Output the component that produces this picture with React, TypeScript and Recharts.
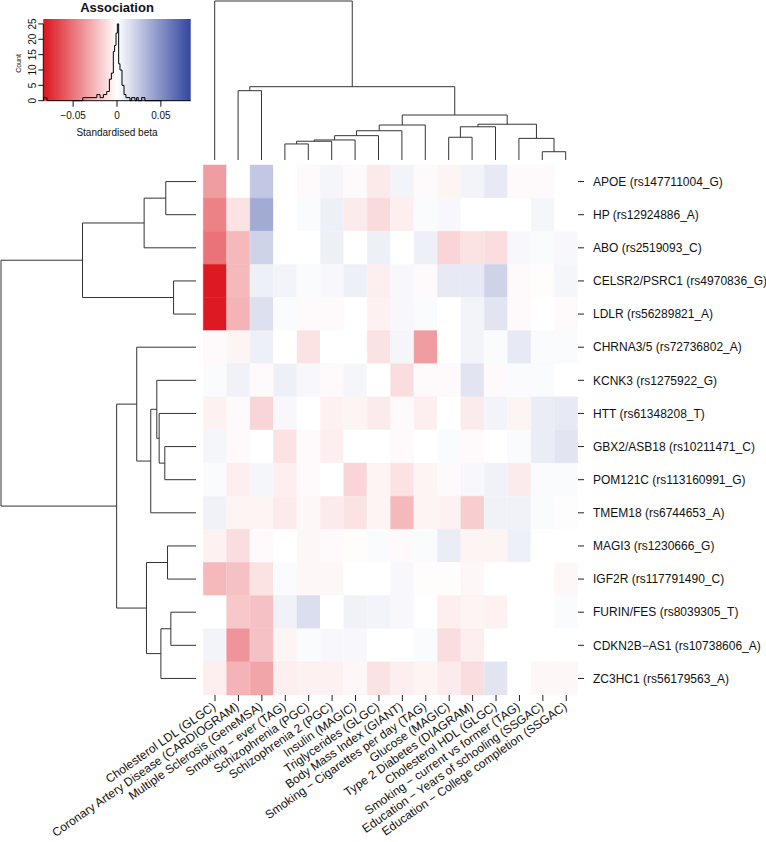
import React from 'react';
import {
  BarChart,
  Bar,
  Cell,
  XAxis,
  YAxis,
  ScatterChart,
  Scatter,
  ReferenceArea,
  ReferenceLine,
} from 'recharts';

// GWAS traits (columns, in dendrogram order)
const traits = [
  'Cholesterol LDL (GLGC)',
  'Coronary Artery Disease (CARDIOGRAM)',
  'Multiple Sclerosis (GeneMSA)',
  'Smoking \u2212 ever (TAG)',
  'Schizophrenia (PGC)',
  'Schizophrenia 2 (PGC)',
  'Insulin (MAGIC)',
  'Triglycerides (GLGC)',
  'Body Mass Index (GIANT)',
  'Smoking \u2212 Cigarettes per day (TAG)',
  'Glucose (MAGIC)',
  'Type 2 Diabetes (DIAGRAM)',
  'Cholesterol HDL (GLGC)',
  'Smoking \u2212 current vs former (TAG)',
  'Education \u2212 Years of schooling (SSGAC)',
  'Education \u2212 College completion (SSGAC)',
];

// SNPs (rows, top to bottom)
const snps = [
  'APOE (rs147711004_G)',
  'HP (rs12924886_A)',
  'ABO (rs2519093_C)',
  'CELSR2/PSRC1 (rs4970836_G)',
  'LDLR (rs56289821_A)',
  'CHRNA3/5 (rs72736802_A)',
  'KCNK3 (rs1275922_G)',
  'HTT (rs61348208_T)',
  'GBX2/ASB18 (rs10211471_C)',
  'POM121C (rs113160991_G)',
  'TMEM18 (rs6744653_A)',
  'MAGI3 (rs1230666_G)',
  'IGF2R (rs117791490_C)',
  'FURIN/FES (rs8039305_T)',
  'CDKN2B\u2212AS1 (rs10738606_A)',
  'ZC3HC1 (rs56179563_A)',
];

// standardised betas, one array per SNP, same order as traits
const apoe = [-0.035, 0, 0.025, 0, -0.002, 0.004, -0.002, -0.008, 0.005, -0.002, -0.004, 0.005, 0.01, -0.002, -0.002, 0];
const hp = [-0.045, -0.01, 0.038, 0, 0.002, 0.007, -0.007, -0.013, -0.006, 0.002, 0.003, 0, 0, 0, 0.004, 0];
const abo = [-0.05, -0.025, 0.02, 0, 0, 0.007, 0, 0.007, 0, 0.007, -0.015, -0.01, -0.012, 0.003, 0.002, 0.003];
const celsr2 = [-0.082, -0.025, 0.007, 0.005, 0.002, 0.003, 0.007, -0.006, 0.003, -0.002, 0.01, 0.01, 0.02, -0.002, -0.001, 0.004];
const ldlr = [-0.082, -0.027, 0.014, 0.002, -0.002, -0.002, 0, -0.005, 0.003, 0.002, 0, 0.005, 0.012, -0.002, 0, -0.002];
const chrna = [-0.002, -0.004, 0.007, 0, -0.01, 0, 0, -0.01, 0.004, -0.035, 0, 0.005, 0.002, 0.01, 0.002, 0.002];
const kcnk3 = [0.002, 0.006, -0.002, 0.007, 0.003, -0.002, 0.004, 0, -0.012, -0.002, -0.002, 0.012, -0.002, 0.002, 0.002, 0];
const htt = [-0.005, -0.002, -0.015, 0.003, 0, -0.005, -0.004, -0.007, -0.002, -0.006, 0, -0.007, 0.005, -0.004, 0.008, 0.01];
const gbx2 = [0.004, -0.002, 0, -0.01, -0.002, -0.006, 0, 0, -0.002, 0, 0.002, -0.002, 0, 0.002, 0.008, 0.012];
const pom121c = [0.002, -0.006, 0.004, -0.006, -0.002, 0, -0.015, -0.004, -0.01, -0.004, -0.002, 0.003, 0.006, -0.007, 0.002, 0.002];
const tmem18 = [0.006, -0.004, -0.004, -0.007, -0.003, -0.007, -0.01, -0.004, -0.025, -0.004, -0.005, -0.018, 0.006, 0.006, 0.002, 0.001];
const magi3 = [-0.005, -0.012, -0.002, 0, -0.003, -0.002, -0.001, 0.002, -0.002, 0.002, 0.008, -0.004, -0.004, 0.007, 0, 0];
const igf2r = [-0.025, -0.022, -0.01, 0.002, -0.003, -0.003, 0, 0, 0.003, -0.001, -0.001, -0.003, 0, 0, 0, -0.003];
const furin = [0, -0.02, -0.022, 0.006, 0.015, 0, 0.006, 0.005, 0.003, 0, -0.006, -0.004, -0.005, 0, 0, 0.002];
const cdkn2b = [0.005, -0.038, -0.022, -0.004, 0.002, 0.003, 0.003, 0, 0, 0.002, -0.012, -0.006, 0, 0, 0, 0];
const zc3hc1 = [-0.006, -0.027, -0.032, -0.006, -0.005, -0.005, -0.003, -0.01, -0.006, -0.004, -0.007, -0.012, 0.012, 0, -0.003, -0.003];

const betaRows = [apoe, hp, abo, celsr2, ldlr, chrna, kcnk3, htt, gbx2, pom121c, tmem18, magi3, igf2r, furin, cdkn2b, zc3hc1];

// dendrograms: leaf = position index, node = [left, right, height]
const traitTree = [0, [[1, 2, 0.436], [[[[[[[3, 4, 0.101], 5, 0.118], 6, 0.126], 7, 0.153], 8, 0.184], 9, 0.22], [[[10, 11, 0.143], 12, 0.209], [13, [14, 15, 0.052], 0.136], 0.225], 0.283], 0.461], 1.0];
const snpTree = [[[[0, 1, 0.155], 2, 0.266], [3, 4, 0.115], 0.582], [[5, [[6, [7, [8, 9, 0.16], 0.189], 0.201], 10, 0.232], 0.304], [[11, 12, 0.146], [[13, 14, 0.129], 15, 0.18], 0.254], 0.407], 1.0];

// histogram of betas in the colour key
const histStart = [-0.0837, -0.039, -0.023, -0.0193, -0.0155, -0.0117, -0.0087, -0.0064, -0.0042, -0.0027, -0.0011, 0.0004, 0.0019, 0.0034, 0.0057, 0.008, 0.0102, 0.0167, 0.0224, 0.0281];
const histEnd = [-0.0799, -0.023, -0.0193, -0.0155, -0.0117, -0.0087, -0.0064, -0.0042, -0.0027, -0.0011, 0.0004, 0.0019, 0.0034, 0.0057, 0.008, 0.0102, 0.0148, 0.0205, 0.0242, 0.0318];
const histCount = [1, 1, 2, 1, 2, 3, 7, 9, 16, 18, 22, 25, 12, 10, 5, 2, 1, 1, 1, 1];

const keyTicks = [-0.05, 0, 0.05];
const countTicks = [0, 5, 10, 15, 20, 25];

const BETA_MAX = 0.084;
const RED = [220, 20, 30];
const BLUE = [50, 70, 160];
const FONT = '"Liberation Sans", Arial, Helvetica, sans-serif';
const LINE = { stroke: '#333', strokeWidth: 1 };

function betaColor(v: number) {
  const t = Math.min(1, Math.abs(v) / BETA_MAX);
  const end = v < 0 ? RED : BLUE;
  const c = end.map((e) => Math.round(255 + (e - 255) * t));
  return `rgb(${c[0]},${c[1]},${c[2]})`;
}

type Pt = { p: number; h: number };
function walk(tree: any, links: Pt[][]): Pt {
  if (typeof tree === 'number') return { p: tree, h: 0 };
  const a = walk(tree[0], links);
  const b = walk(tree[1], links);
  const h = tree[2];
  links.push([a, { p: a.p, h }, { p: b.p, h }, b]);
  return { p: (a.p + b.p) / 2, h };
}
function dendroLinks(tree: any) {
  const links: Pt[][] = [];
  walk(tree, links);
  return links;
}

const traitLinks = dendroLinks(traitTree);
const snpLinks = dendroLinks(snpTree);

const cellData = traits.map((name) => {
  const d: any = { name };
  snps.forEach((_, i) => {
    d[`r${i}`] = 1;
  });
  return d;
});
const rowTicks = snps.map((_, i) => i + 0.5);

const histLine = (() => {
  const pts = [{ x: -BETA_MAX, y: 0 }];
  let prevEnd = -BETA_MAX;
  histStart.forEach((s, i) => {
    if (Math.abs(s - prevEnd) > 1e-6) {
      pts.push({ x: prevEnd, y: 0 }, { x: s, y: 0 });
    }
    pts.push({ x: s, y: histCount[i] }, { x: histEnd[i], y: histCount[i] });
    prevEnd = histEnd[i];
  });
  pts.push({ x: prevEnd, y: 0 }, { x: BETA_MAX, y: 0 });
  return pts;
})();

const noDot = () => <g />;

const TraitTick = (props: any) => {
  const { x, y, payload } = props;
  return (
    <text
      x={x - 1}
      y={y}
      dy="0.35em"
      textAnchor="end"
      fontSize={12}
      fill="#111"
      transform={`rotate(-35 ${x - 1} ${y})`}
    >
      {payload.value}
    </text>
  );
};

const SnpTick = (props: any) => {
  const { x, y, payload } = props;
  return (
    <text x={x} y={y} dy="0.355em" textAnchor="start" fontSize={12} fill="#111">
      {snps[Math.floor(payload.value)]}
    </text>
  );
};

const CountTick = (props: any) => {
  const { x, y, payload } = props;
  return (
    <text x={x} y={y} textAnchor="middle" fontSize={10} fill="#111" transform={`rotate(-90 ${x} ${y})`}>
      {payload.value}
    </text>
  );
};

export default function App() {
  return (
    <div style={{ position: 'absolute', left: 0, top: 0, width: 766, height: 842, background: '#fff', fontFamily: FONT }}>
      {/* heatmap */}
      <div style={{ position: 'absolute', left: 0, top: 0 }}>
        <BarChart
          width={766}
          height={842}
          data={cellData}
          margin={{ top: 165, right: 8, bottom: 7, left: 203.3 }}
          barCategoryGap={0}
          barGap={0}
        >
          <XAxis
            dataKey="name"
            interval={0}
            height={140}
            tickSize={6}
            tickMargin={4}
            axisLine={false}
            tickLine={{ stroke: '#222' }}
            tick={<TraitTick />}
          />
          <YAxis
            orientation="right"
            type="number"
            domain={[0, 16]}
            reversed
            ticks={rowTicks}
            interval={0}
            width={180}
            tickSize={6}
            tickMargin={9}
            axisLine={false}
            tickLine={{ stroke: '#222' }}
            tick={<SnpTick />}
          />
          {snps.map((s, i) => (
            <Bar key={s} dataKey={`r${i}`} stackId="cells" isAnimationActive={false}>
              {traits.map((t, j) => {
                const c = betaColor(betaRows[i][j]);
                return <Cell key={t} fill={c} stroke={c} strokeWidth={0.5} />;
              })}
            </Bar>
          ))}
        </BarChart>
      </div>

      {/* column dendrogram */}
      <div style={{ position: 'absolute', left: 203.3, top: 0 }}>
        <ScatterChart width={374.4} height={162} margin={{ top: 1, right: 0, bottom: 2, left: 0 }}>
          <XAxis type="number" dataKey="p" domain={[-0.5, 15.5]} hide />
          <YAxis type="number" dataKey="h" domain={[0, 1]} hide width={0} />
          {traitLinks.map((link, i) => (
            <Scatter key={i} data={link} line={LINE} shape={noDot} isAnimationActive={false} />
          ))}
        </ScatterChart>
      </div>

      {/* row dendrogram */}
      <div style={{ position: 'absolute', left: 0, top: 165 }}>
        <ScatterChart width={196} height={530} margin={{ top: 0, right: 0, bottom: 0, left: 1 }}>
          <XAxis type="number" dataKey="h" domain={[0, 1]} reversed hide />
          <YAxis type="number" dataKey="p" domain={[-0.5, 15.5]} reversed hide width={0} />
          {snpLinks.map((link, i) => (
            <Scatter key={i} data={link} line={LINE} shape={noDot} isAnimationActive={false} />
          ))}
        </ScatterChart>
      </div>

      {/* colour key */}
      <div style={{ position: 'absolute', left: 0, top: 0 }}>
        <ScatterChart width={200} height={145} margin={{ top: 19, right: 9.3, bottom: 0, left: 8 }}>
          <defs>
            <linearGradient id="keyGrad" x1="0" y1="0" x2="1" y2="0">
              <stop offset="0%" stopColor={`rgb(${RED.join(',')})`} />
              <stop offset="50%" stopColor="#ffffff" />
              <stop offset="100%" stopColor={`rgb(${BLUE.join(',')})`} />
            </linearGradient>
          </defs>
          <XAxis
            type="number"
            dataKey="x"
            domain={[-BETA_MAX, BETA_MAX]}
            ticks={keyTicks}
            tickFormatter={(v: number) => (v < 0 ? `\u2212${Math.abs(v)}` : `${v}`)}
            height={44.3}
            tickSize={6}
            tickMargin={5}
            axisLine={false}
            tickLine={{ stroke: '#111' }}
            tick={{ fontSize: 10, fill: '#111' }}
          />
          <YAxis
            type="number"
            dataKey="y"
            domain={[0, 26.6]}
            ticks={countTicks}
            interval={0}
            width={35.3}
            tickSize={5}
            tickMargin={2}
            axisLine={false}
            tickLine={{ stroke: '#111' }}
            tick={<CountTick />}
          />
          <ReferenceArea
            x1={-BETA_MAX}
            x2={BETA_MAX}
            y1={0}
            y2={26.6}
            fill="url(#keyGrad)"
            fillOpacity={1}
            stroke="none"
            ifOverflow="visible"
          />
          <ReferenceLine
            segment={[{ x: -BETA_MAX, y: 0 }, { x: -BETA_MAX, y: 25 }]}
            stroke="#111"
            ifOverflow="visible"
          />
          <ReferenceLine
            segment={[{ x: -0.05, y: 0 }, { x: 0.05, y: 0 }]}
            stroke="#111"
            ifOverflow="visible"
          />
          <Scatter
            data={histLine}
            line={{ stroke: '#000', strokeWidth: 1 }}
            shape={noDot}
            isAnimationActive={false}
          />
        </ScatterChart>
      </div>
      <div style={{ position: 'absolute', left: 57, top: 0, width: 120, textAlign: 'center', fontSize: 13, fontWeight: 'bold', color: '#111' }}>
        Association
      </div>
      <div
        style={{
          position: 'absolute',
          left: 0,
          top: 60,
          width: 36,
          textAlign: 'center',
          fontSize: 7,
          color: '#111',
          transform: 'rotate(-90deg)',
        }}
      >
        Count
      </div>
      <div style={{ position: 'absolute', left: 43, top: 127, width: 148, textAlign: 'center', fontSize: 10, color: '#111' }}>
        Standardised beta
      </div>
    </div>
  );
}
